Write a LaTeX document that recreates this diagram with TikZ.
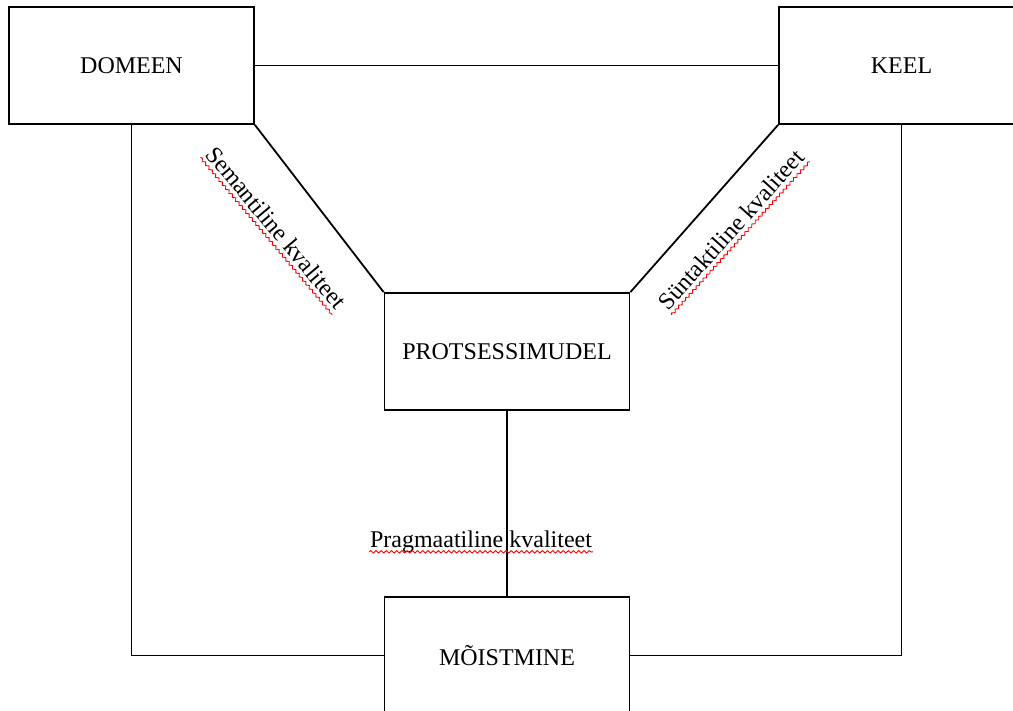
\documentclass[tikz,border=0pt]{standalone}
\usepackage{fontspec}
\setmainfont{Liberation Serif}
\usetikzlibrary{calc, decorations.pathmorphing}

\begin{document}
\begin{tikzpicture}[x=0.5pt, y=-0.5pt, font=\fontsize{12}{14}\selectfont, line width=0.9pt]
	\tikzstyle{box} = [draw=black, rectangle, minimum width=122.5pt, minimum height=58.5pt, inner sep=0pt]
	\tikzstyle{quality} = [inner sep=0pt, anchor=base]
	\tikzstyle{typo} = [draw=red, line width=0.45pt, decorate, decoration={snake, amplitude=0.6pt, segment length=2.6pt}]
	
	\useasboundingbox (0, 0) rectangle (1013, 711);
	\clip (0, 0) rectangle (1013, 711);
	
	\node[box]	at (131.5, 65.5)	(dom)	{DOMEEN};
	\node[box]	at (901.5, 65.5)	(keel)	{KEEL};
	\node[box]	at (507, 351.5)		(pm)	{PROTSESSIMUDEL};
	\node[box]	at (507, 655.5)		(moi)	{MÕISTMINE};
	
	\node[quality, rotate=-50]	at (270, 233)	(sem)	{Semantiline kvaliteet};
	\node[quality, rotate=48]	at (737, 235)	(syn)	{Süntaktiline kvaliteet};
	\node[quality]			at (481, 547)	(prag)	{Pragmaatiline kvaliteet};
	
	\path[draw]
	(dom) edge (keel)
	(dom.south east) edge (pm.north west)
	(keel.south west) edge (pm.north east)
	(pm) edge (moi);
	
	\draw (dom.south) |- (moi.west);
	\draw (keel.south) |- (moi.east);
	
	% spell check marks
	\foreach \t in {sem, syn, prag}
		\draw[typo] ($(\t.base west)!2.4pt!-90:(\t.base east)$) -- ($(\t.base east)!2.4pt!90:(\t.base west)$);
	
\end{tikzpicture}
\end{document}
